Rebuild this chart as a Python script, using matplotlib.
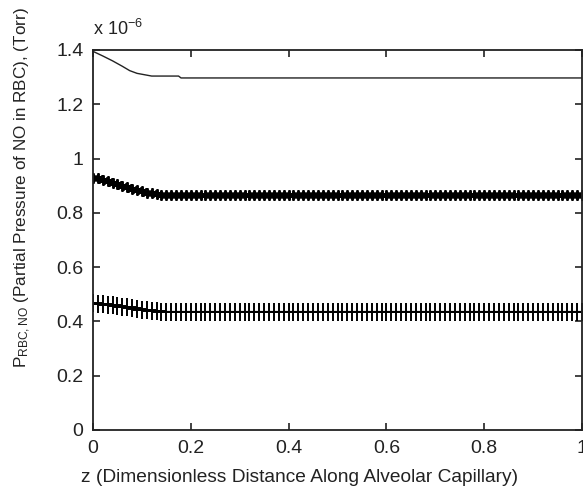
import matplotlib
matplotlib.use("Agg")
import matplotlib.pyplot as plt
import numpy as np

plt.rcParams['font.family'] = ['Liberation Sans', 'DejaVu Sans']
plt.rcParams['mathtext.default'] = 'regular'

# z grid (dimensionless distance), 101 samples
z = np.linspace(0, 1, 101)

# Upper curve (solid line, no markers), values in units of 1e-6 Torr
z_top = [0.0, 0.02, 0.04, 0.06, 0.075, 0.09, 0.12, 0.175, 0.18, 1.0]
p_top = [1.395, 1.378, 1.360, 1.340, 1.324, 1.314, 1.304, 1.304, 1.297, 1.297]

# Middle curve (asterisk markers)
p_mid = [0.930, 0.927, 0.922, 0.916, 0.910, 0.905, 0.900, 0.894, 0.888, 0.883,
         0.879, 0.875, 0.872, 0.869, 0.867, 0.866, 0.866, 0.866, 0.866, 0.866,
         0.866, 0.866, 0.866, 0.866, 0.866, 0.866, 0.866, 0.866, 0.866, 0.866,
         0.866, 0.866, 0.866, 0.866, 0.866, 0.866, 0.866, 0.866, 0.866, 0.866,
         0.866, 0.866, 0.866, 0.866, 0.866, 0.866, 0.866, 0.866, 0.866, 0.866,
         0.866, 0.866, 0.866, 0.866, 0.866, 0.866, 0.866, 0.866, 0.866, 0.866,
         0.866, 0.866, 0.866, 0.866, 0.866, 0.866, 0.866, 0.866, 0.866, 0.866,
         0.866, 0.866, 0.866, 0.866, 0.866, 0.866, 0.866, 0.866, 0.866, 0.866,
         0.866, 0.866, 0.866, 0.866, 0.866, 0.866, 0.866, 0.866, 0.866, 0.866,
         0.866, 0.866, 0.866, 0.866, 0.866, 0.866, 0.866, 0.866, 0.866, 0.866,
         0.866]

# Lower curve (plus markers)
p_low = [0.467, 0.466, 0.464, 0.461, 0.459, 0.457, 0.455, 0.452, 0.449, 0.446,
         0.443, 0.441, 0.439, 0.437, 0.436, 0.435, 0.435, 0.435, 0.435, 0.435,
         0.435, 0.435, 0.435, 0.435, 0.435, 0.435, 0.435, 0.435, 0.435, 0.435,
         0.435, 0.435, 0.435, 0.435, 0.435, 0.435, 0.435, 0.435, 0.435, 0.435,
         0.435, 0.435, 0.435, 0.435, 0.435, 0.435, 0.435, 0.435, 0.435, 0.435,
         0.435, 0.435, 0.435, 0.435, 0.435, 0.435, 0.435, 0.435, 0.435, 0.435,
         0.435, 0.435, 0.435, 0.435, 0.435, 0.435, 0.435, 0.435, 0.435, 0.435,
         0.435, 0.435, 0.435, 0.435, 0.435, 0.435, 0.435, 0.435, 0.435, 0.435,
         0.435, 0.435, 0.435, 0.435, 0.435, 0.435, 0.435, 0.435, 0.435, 0.435,
         0.435, 0.435, 0.435, 0.435, 0.435, 0.435, 0.435, 0.435, 0.435, 0.435,
         0.435]

xticks = [0, 0.2, 0.4, 0.6, 0.8, 1]
xticklabels = ['0', '0.2', '0.4', '0.6', '0.8', '1']
yticks = [0, 0.2, 0.4, 0.6, 0.8, 1, 1.2, 1.4]
yticklabels = ['0', '0.2', '0.4', '0.6', '0.8', '1', '1.2', '1.4']

fig = plt.figure(figsize=(5.83, 4.88), dpi=100)
ax = fig.add_axes([93 / 583, 58 / 488, 489 / 583, 380 / 488])

ax.plot(z_top, p_top, color='#222222', lw=1.0)
ax.plot(z, p_mid, color='black', lw=1.5, marker=(6, 2, 0), markersize=7.5,
        markeredgewidth=1.4)
ax.plot(z, p_low, color='black', lw=1.5, marker='+', markersize=13,
        markeredgewidth=1.4)

ax.set_xlim(0, 1)
ax.set_ylim(0, 1.4)
ax.set_xticks(xticks)
ax.set_xticklabels(xticklabels)
ax.set_yticks(yticks)
ax.set_yticklabels(yticklabels)
ax.tick_params(direction='in', length=5, width=1.2, top=True, right=True,
               labelsize=14, colors='#222222', pad=7)
for s in ax.spines.values():
    s.set_linewidth(1.3)
    s.set_color('#222222')

ax.text(0.0, 1.03, r'x 10$^{-6}$', transform=ax.transAxes, fontsize=13,
        color='#222222', ha='left', va='bottom')

fig.text(300 / 583, 1 - 478 / 488,
         'z (Dimensionless Distance Along Alveolar Capillary)',
         ha='center', va='center', fontsize=13.8, color='#222222')
fig.text(23 / 583, 1 - 188 / 488,
         r'P$_{RBC,NO}$ (Partial Pressure of NO in RBC), (Torr)',
         ha='center', va='center', rotation=90, fontsize=12.3, color='#222222')

fig.savefig('out.png', dpi=100, facecolor='white')
